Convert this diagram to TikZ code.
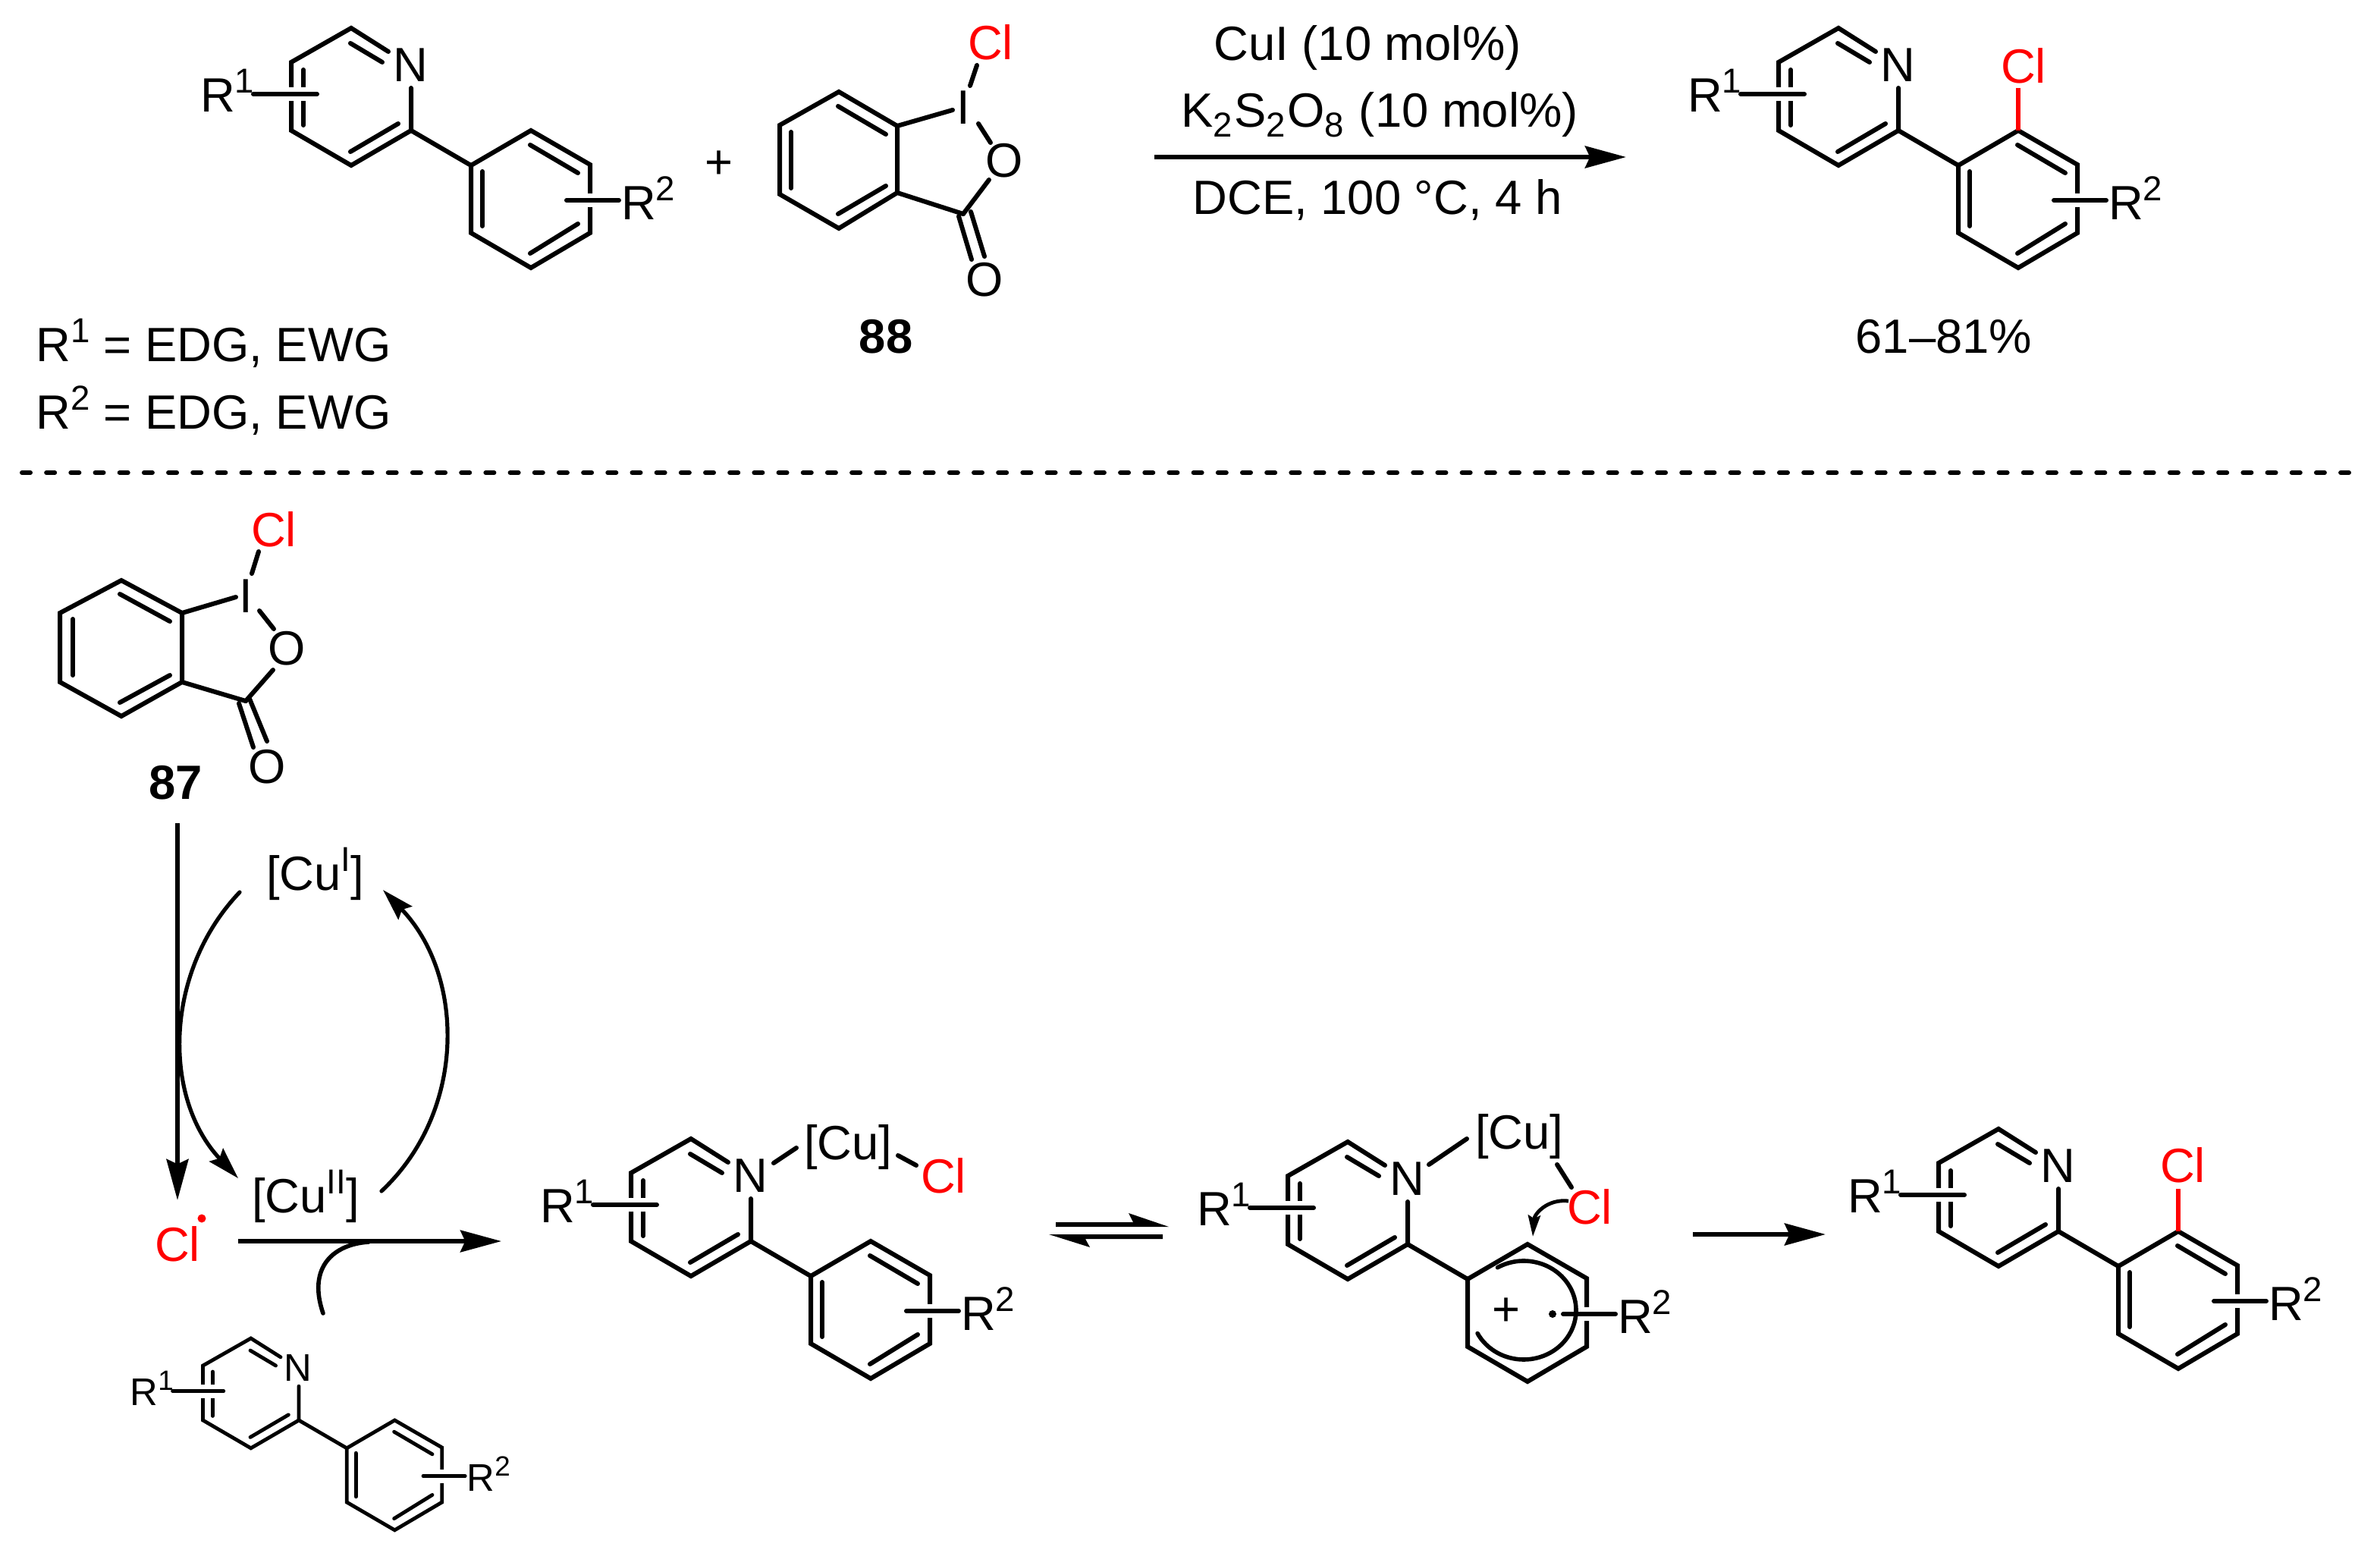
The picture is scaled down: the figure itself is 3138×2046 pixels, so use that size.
\documentclass[tikz,border=0pt]{standalone}
\usepackage{fontspec}
\setmainfont{Liberation Sans}
\usetikzlibrary{arrows.meta}
\definecolor{clred}{RGB}{255,0,0}
\newcommand\bigfont{\fontsize{15.85}{18}\selectfont\let\scriptf\bigscript}
\newcommand\bigscript{\fontsize{11.4}{13}\selectfont}
\newcommand\smfont{\fontsize{12.7}{15}\selectfont\let\scriptf\smscript}
\newcommand\smscript{\fontsize{9.2}{11}\selectfont}
\let\chemf\bigfont
\newcommand\sups[1]{\raisebox{.39em}{\scriptf #1}}
\newcommand\subs[1]{\raisebox{-.21em}{\scriptf #1}\hspace{.6pt}}
\tikzset{
  bond/.style={line width=\bondw,line cap=round,line join=miter,miter limit=10},
  halo/.style={line width=4.5pt,white,line cap=butt},
  txt/.style={inner sep=0pt,outer sep=0pt,font=\chemf},
  redtxt/.style={txt,text=clred},
  rxn/.style={line width=1.5pt,-{Stealth[length=13.5pt,width=7.2pt,inset=1.6pt]}},
  cyc/.style={line width=1.3pt,line cap=round,-{Stealth[length=10.5pt,width=6.2pt,inset=1.5pt]}},
}
\def\bondw{1.5pt}
% pyridine + attached aryl skeleton; #1 prefix, #2 #3 position of C2, #4 scale
\newcommand\ppy[4]{%
\begin{scope}[shift={(#2,#3)},scale=#4]
  \coordinate (#1c2) at (0,0);
  \coordinate (#1py1) at (-30,-104);
  \coordinate (#1py2) at (-79,-135);
  \coordinate (#1py3) at (-158,-90);
  \coordinate (#1py4) at (-158,0);
  \coordinate (#1py5) at (-79,46);
  \coordinate (#1py6) at (0,-56);
  \coordinate (#1ar1) at (79,46);
  \coordinate (#1ar2) at (158,0);
  \coordinate (#1ar3) at (236,45);
  \coordinate (#1ar4) at (236,135);
  \coordinate (#1ar5) at (158,181);
  \coordinate (#1ar6) at (79,135);
  \coordinate (#1ra) at (-208,-48);
  \coordinate (#1rb) at (-124,-48);
  \coordinate (#1rc) at (205,92);
  \coordinate (#1rd) at (274,92);
  \draw[bond] (#1py1) -- (#1py2) -- (#1py3) -- (#1py4) -- (#1py5) -- (#1c2) -- (#1py6);
  \draw[bond] (#1c2) -- (#1ar1);
  \draw[bond] (#1ar1) -- (#1ar2) -- (#1ar3) -- (#1ar4) -- (#1ar5) -- (#1ar6) -- cycle;
  \draw[bond] (-142,-80) -- (-142,-7);
  \draw[bond] (-80,-115) -- (-38,-90);
  \draw[bond] (-80,28) -- (-17,-9);
  \draw[halo] (-170,-48) -- (-130,-48);
  \draw[halo] (222,92) -- (250,92);
  \draw[bond] (#1ra) -- (#1rb);
  \draw[bond] (#1rc) -- (#1rd);
  \node[txt,anchor=base] (#1N) at (-1,-65) {N};
  \node[txt,anchor=base west] (#1Ra) at (-278,-25) {R\sups{1}};
  \node[txt,anchor=base west] (#1Rb) at (277,117) {R\sups{2}};
\end{scope}}
% inner double bonds of the aryl ring
\newcommand\arinner[4]{%
\begin{scope}[shift={(#2,#3)},scale=#4]
  \draw[bond] (157,19) -- (220,56);
  \draw[bond] (94,54) -- (94,126);
  \draw[bond] (220,123) -- (157,162);
\end{scope}}
\begin{document}
\begin{tikzpicture}[x=0.25pt,y=-0.25pt]
\path[use as bounding box,fill=white] (0,0) rectangle (3138,2046);

% ---- top scheme ----
\ppy{a}{542}{172}{1}\arinner{a}{542}{172}{1}
\node[txt] (plus) at (948,217) {+};

% iodane 88
\coordinate (b1) at (1106,121);\coordinate (b2) at (1183,166);\coordinate (b3) at (1183,254);
\coordinate (b4) at (1106,301);\coordinate (b5) at (1028,256);\coordinate (b6) at (1028,165);
\coordinate (bc) at (1270,282);
\draw[bond] (b1)--(b2)--(b3)--(b4)--(b5)--(b6)--cycle;
\draw[bond] (1105,140)--(1168,177);
\draw[bond] (1043,174)--(1043,248);
\draw[bond] (1105,282)--(1168,245);
\node[txt,anchor=base] (bI) at (1270,163) {I};
\node[redtxt,anchor=base west] (bCl) at (1276,78) {Cl};
\node[txt,anchor=base] (bO) at (1324,233) {O};
\node[txt,anchor=base] (bO2) at (1298,390) {O};
\draw[bond] (b2)--(1256,145);
\draw[bond] (1279,113)--(1288,86);
\draw[bond] (1290,163)--(1306,188);
\draw[bond] (1304,237)--(bc);
\draw[bond] (b3)--(bc);
\draw[bond] (1264,285)--(1281,342);
\draw[bond] (1280,279)--(1298,338);
\node[txt,anchor=base] (lab88) at (1168,465) {\bfseries 88};

% conditions
\coordinate (arrS) at (1522,207);\coordinate (arrE) at (2144,207);
\draw[rxn] (arrS)--(arrE);
\node[txt,anchor=base] (c1) at (1803,79) {CuI (10 mol\%)};
\node[txt,anchor=base] (c2) at (1819,167) {K\subs{2}S\subs{2}O\subs{8} (10 mol\%)};
\node[txt,anchor=base] (c3) at (1816,282) {DCE, 100 °C, 4 h};

% product
\ppy{p}{2503}{172}{1}\arinner{p}{2503}{172}{1}
\node[redtxt,anchor=base] (pCl) at (2668,109) {Cl};
\draw[bond,clred,line cap=butt] (par2)--(2661,116);
\node[txt,anchor=base] (yield) at (2563,465) {61–81\%};

\node[txt,anchor=base west] (r1) at (48,476) {R\sups{1} = EDG, EWG};
\node[txt,anchor=base west] (r2) at (48,565) {R\sups{2} = EDG, EWG};

% separator
\coordinate (sepL) at (29,623);\coordinate (sepR) at (3097,623);
\draw[line width=1.5pt,line cap=round,dash pattern=on 2.75pt off 5.295pt] (sepL)--(sepR);

% ---- mechanism ----
\coordinate (d1) at (160,765);\coordinate (d2) at (240,808);\coordinate (d3) at (240,899);
\coordinate (d4) at (160,944);\coordinate (d5) at (79,899);\coordinate (d6) at (79,808);
\coordinate (dc) at (324,924);
\draw[bond] (d1)--(d2)--(d3)--(d4)--(d5)--(d6)--cycle;
\draw[bond] (158,783)--(224,819);
\draw[bond] (96,816)--(96,890);
\draw[bond] (158,926)--(224,890);
\node[txt,anchor=base] (dI) at (324,807) {I};
\node[redtxt,anchor=base west] (dCl) at (331,720) {Cl};
\node[txt,anchor=base] (dO) at (378,876) {O};
\node[txt,anchor=base] (dO2) at (352,1032) {O};
\draw[bond] (d2)--(311,787);
\draw[bond] (332,756)--(341,727);
\draw[bond] (342,805)--(361,829);
\draw[bond] (360,883)--(dc);
\draw[bond] (d3)--(dc);
\draw[bond] (315,927)--(334,985);
\draw[bond] (329,921)--(352,977);
\node[txt,anchor=base] (lab87) at (232,1053) {\bfseries 87};

\coordinate (vS) at (234,1085);\coordinate (vE) at (234,1582);
\draw[rxn] (vS)--(vE);

\node[txt,anchor=base west] (cu1) at (351,1173) {[Cu\sups{I}]};
\node[txt,anchor=base west] (cu2) at (332,1598) {[Cu\sups{II}]};
\coordinate (lS) at (316,1176);\coordinate (lE) at (314,1553);
\coordinate (rS) at (503,1570);\coordinate (rE) at (505,1173);
\draw[cyc] (lS) .. controls (216,1281) and (214,1447) .. (lE);
\draw[cyc] (rS) .. controls (616,1464) and (613,1285) .. (rE);

\node[redtxt,anchor=base west] (clrad) at (204,1662) {Cl};
\fill[clred] (266,1606) circle[radius=5.5];

\coordinate (hS) at (314,1636);\coordinate (hE) at (661,1636);
\draw[rxn,line width=1.3pt] (hS)--(hE);
\coordinate (cS) at (426,1731);\coordinate (cE) at (486,1637);
\draw[line width=1.4pt,line cap=round] (cS) .. controls (405,1670) and (440,1640) .. (cE);

% small substrate
\begingroup
\let\chemf\smfont
\def\bondw{1.2pt}
\ppy{s}{394}{1872}{0.8}\arinner{s}{394}{1872}{0.8}
\endgroup

% Cu complex
\ppy{m}{990}{1636}{1}\arinner{m}{990}{1636}{1}
\node[txt,anchor=base west] (mCu) at (1060,1528) {[Cu]};
\node[redtxt,anchor=base west] (mCl) at (1214,1572) {Cl};
\draw[bond] (1020,1533)--(1050,1513);
\draw[bond] (1184,1523)--(1208,1536);

% equilibrium
\fill (1392,1611)--(1494,1611)--(1488,1599)--(1541,1617)--(1392,1617)--cycle;
\fill (1533,1633)--(1431,1633)--(1437,1644)--(1383,1627)--(1533,1627)--cycle;

% radical cation complex
\ppy{n}{1856}{1640}{1}
\node[txt,anchor=base west] (nCu) at (1945,1514) {[Cu]};
\node[redtxt,anchor=base west] (nCl) at (2066,1613) {Cl};
\draw[bond] (1884,1535)--(1934,1501);
\draw[bond] (2053,1535)--(2072,1565);
\draw[line width=1.4pt,line cap=round] (1974.5,1670.7) arc[start angle=-120,end angle=152,x radius=69,y radius=65];
\node[txt] (nplus) at (1986,1729) {+};
\fill (2047,1732) circle[radius=5];
\coordinate (fS) at (2068,1583);\coordinate (fE) at (2021,1630);
\draw[line width=1.2pt,-{Stealth[length=7pt,width=4pt,inset=1pt]}] (fS) .. controls (2040,1580) and (2023,1600) .. (fE);

% last arrow and product
\coordinate (gS) at (2232,1627);\coordinate (gE) at (2407,1627);
\draw[rxn] (gS)--(gE);
\ppy{q}{2714}{1623}{1}\arinner{q}{2714}{1623}{1}
\node[redtxt,anchor=base] (qCl) at (2878,1558) {Cl};
\draw[bond,clred,line cap=butt] (qar2)--(2872,1567);
\end{tikzpicture}
\end{document}
